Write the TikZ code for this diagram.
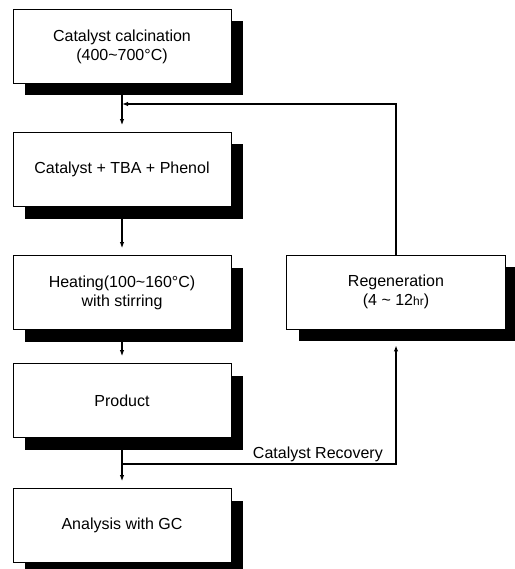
\documentclass[tikz,border=0pt]{standalone}
\usepackage{fontspec}
\setmainfont{Liberation Sans}
\usetikzlibrary{arrows.meta,shadows,calc}
\begin{document}
\begin{tikzpicture}[x=1pt,y=-1pt,
  box/.style={draw,line width=0.9pt,fill=white,minimum width=218pt,minimum height=74pt,
    align=center,font=\fontsize{16}{19}\selectfont,inner sep=0pt,
    drop shadow={shadow xshift=12pt,shadow yshift=-12pt,fill=black,opacity=1}},
  conn/.style={line width=1.1pt,-{Latex[length=6pt,width=4.5pt]}},
  lbl/.style={font=\fontsize{16}{19}\selectfont,inner sep=0pt}]
\useasboundingbox (0,0) rectangle (514,569);
\node[box] (b1) at (122,46.5) {Catalyst calcination\\(400\textasciitilde700°C)};
\node[box] (b2) at (122,169.5) {Catalyst + TBA + Phenol};
\node[box] (b3) at (122,292.5) {Heating(100\textasciitilde160°C)\\with stirring};
\node[box] (b4) at (122,400.5) {Product};
\node[box] (b5) at (122,525.5) {Analysis with GC};
\node[box,minimum width=219pt] (r) at (396,292) {Regeneration\\(4 \textasciitilde{} 12{\fontsize{12}{14}\selectfont hr})};
\coordinate (j1) at (122,104);
\coordinate (j2) at (122,464);
\coordinate (c1) at (r.north |- j1);
\coordinate (c2) at (r.south |- j2);
\draw[conn,shorten >=7pt] (b1.south) -- (b2.north);
\draw[conn,shorten >=7pt] (b2.south) -- (b3.north);
\draw[conn,shorten >=7pt] (b3.south) -- (b4.north);
\draw[conn,shorten >=7pt] (b4.south) -- (b5.north);
\draw[conn] (r.north) -- (c1) -- (j1);
\draw[conn,shorten >=16pt] (j2) -- (c2) -- (r.south);
\node[lbl,anchor=base east] (rec) at (383,458) {Catalyst Recovery};
\end{tikzpicture}
\end{document}
